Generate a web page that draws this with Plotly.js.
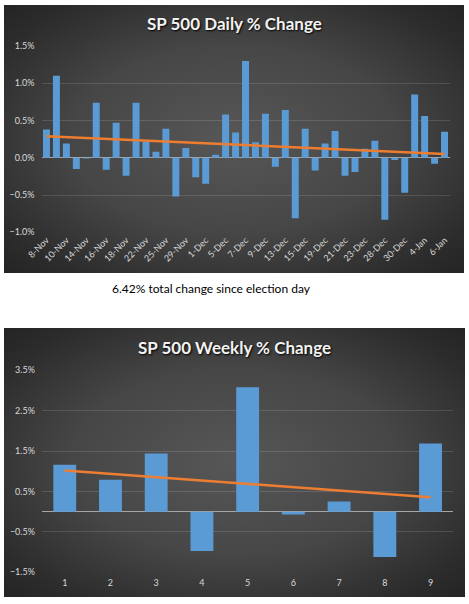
<!DOCTYPE html>
<html><head><meta charset="utf-8">
<script src="https://cdn.plot.ly/plotly-3.0.1.min.js"></script>
<style>
html,body{margin:0;padding:0;background:#fff;}
#wrap{position:relative;width:469px;height:604px;overflow:hidden;}
.bg{position:absolute;background:radial-gradient(ellipse at 50% 50%, #575757 0%, #464646 50%, #2c2c2c 85%, #242424 100%);}
#bg1{left:4px;top:5px;width:460px;height:268px;}
#bg2{left:4px;top:328px;width:461px;height:269px;}
#chart{position:absolute;left:0;top:0;width:469px;height:604px;}
</style></head>
<body><div id="wrap"><div class="bg" id="bg1"></div><div class="bg" id="bg2"></div><div id="chart"></div></div>
<script>
const dailyDates = ['8-Nov','9-Nov','10-Nov','11-Nov','14-Nov','15-Nov','16-Nov','17-Nov','18-Nov','21-Nov',
  '22-Nov','23-Nov','25-Nov','28-Nov','29-Nov','30-Nov','1-Dec','2-Dec','5-Dec','6-Dec',
  '7-Dec','8-Dec','9-Dec','12-Dec','13-Dec','14-Dec','15-Dec','16-Dec','19-Dec','20-Dec',
  '21-Dec','22-Dec','23-Dec','27-Dec','28-Dec','29-Dec','30-Dec','3-Jan','4-Jan','5-Jan','6-Jan'];
const dailyChange = [0.38,1.10,0.19,-0.15,-0.01,0.74,-0.16,0.47,-0.24,0.74,
  0.22,0.08,0.39,-0.52,0.13,-0.26,-0.35,0.04,0.58,0.34,
  1.30,0.21,0.59,-0.12,0.64,-0.81,0.39,-0.17,0.19,0.36,
  -0.24,-0.19,0.12,0.23,-0.83,-0.03,-0.47,0.85,0.56,-0.08,0.35];
const dailyTickLabels = ['8-Nov','10-Nov','14-Nov','16-Nov','18-Nov','22-Nov','25-Nov','29-Nov','1-Dec','5-Dec',
  '7-Dec','9-Dec','13-Dec','15-Dec','19-Dec','21-Dec','23-Dec','28-Dec','30-Dec','4-Jan','6-Jan'];
const dailyTrend = [0.29, 0.05];
const weeks = ['1','2','3','4','5','6','7','8','9'];
const weeklyChange = [1.16,0.79,1.44,-0.97,3.08,-0.07,0.25,-1.12,1.69];
const weeklyTrend = [1.02, 0.36];
const dailyTitle = 'SP 500 Daily % Change';
const weeklyTitle = 'SP 500 Weekly % Change';
const note = '6.42% total change since election day';

const barColor = '#5b9bd5';
const trendColor = '#ed7d31';
const tickFont = {family:'Lato, "Open Sans", sans-serif', size:9, color:'#d9d9d9'};
const titleFont = {family:'Lato, "Open Sans", sans-serif', size:17, color:'#f2f2f2', weight:700, shadow:'1px 1px 2px #000'};
const grid = 'rgba(255,255,255,0.13)';

const traces = [
  {type:'bar', x:dailyDates, y:dailyChange, xaxis:'x', yaxis:'y', marker:{color:barColor}},
  {type:'scatter', mode:'lines', x:[dailyDates[0], dailyDates[dailyDates.length-1]], y:dailyTrend, xaxis:'x', yaxis:'y',
   line:{color:trendColor, width:2.5}},
  {type:'bar', x:weeks, y:weeklyChange, xaxis:'x2', yaxis:'y2', marker:{color:barColor}, width:0.5},
  {type:'scatter', mode:'lines', x:[weeks[0], weeks[weeks.length-1]], y:weeklyTrend, xaxis:'x2', yaxis:'y2',
   line:{color:trendColor, width:2.5}}
];

const layout = {
  width:469, height:604, margin:{l:0,r:0,t:0,b:0},
  paper_bgcolor:'rgba(0,0,0,0)', plot_bgcolor:'rgba(0,0,0,0)',
  showlegend:false, bargap:0.3,
  xaxis:{type:'category', domain:[41.5/469, 449.5/469], anchor:'y', tickvals:dailyTickLabels, ticktext:dailyTickLabels,
    tickangle:-45, tickfont:tickFont, showgrid:false, showline:false, ticks:'', range:[-0.5,40.5], fixedrange:true},
  yaxis:{domain:[1-232.3/604, 1-46/604], anchor:'x', range:[-1.0,1.5], tickmode:'linear', tick0:-1.0, dtick:0.5,
    tickformat:'.1f', ticksuffix:'%', tickfont:tickFont, gridcolor:grid, gridwidth:1,
    zeroline:true, zerolinecolor:'#a6a6a6', zerolinewidth:1, ticks:'', ticklabelstandoff:6, fixedrange:true},
  xaxis2:{type:'category', domain:[41.9/469, 453.4/469], anchor:'y2', tickfont:tickFont, showgrid:false,
    showline:false, ticks:'', range:[-0.5,8.5], fixedrange:true, ticklabelstandoff:4},
  yaxis2:{domain:[1-572.3/604, 1-370.3/604], anchor:'x2', range:[-1.5,3.5], tickmode:'linear', tick0:-1.5, dtick:1,
    tickformat:'.1f', ticksuffix:'%', tickfont:tickFont, gridcolor:grid, gridwidth:1,
    zeroline:true, zerolinecolor:'#a6a6a6', zerolinewidth:1, ticks:'', ticklabelstandoff:6, fixedrange:true},
  annotations:[
    {text:dailyTitle, xref:'paper', yref:'paper', x:234/469, y:1-24/604, xanchor:'center', yanchor:'middle', showarrow:false, font:titleFont},
    {text:weeklyTitle, xref:'paper', yref:'paper', x:234/469, y:1-347/604, xanchor:'center', yanchor:'middle', showarrow:false, font:titleFont},
    {text:note, xref:'paper', yref:'paper', x:211.5/469, y:1-289/604, xanchor:'center', yanchor:'middle', showarrow:false,
     font:{family:'Lato, "Open Sans", sans-serif', size:12, color:'#000'}}
  ]
};
Plotly.newPlot('chart', traces, layout, {displayModeBar:false, staticPlot:true});
</script></body></html>
